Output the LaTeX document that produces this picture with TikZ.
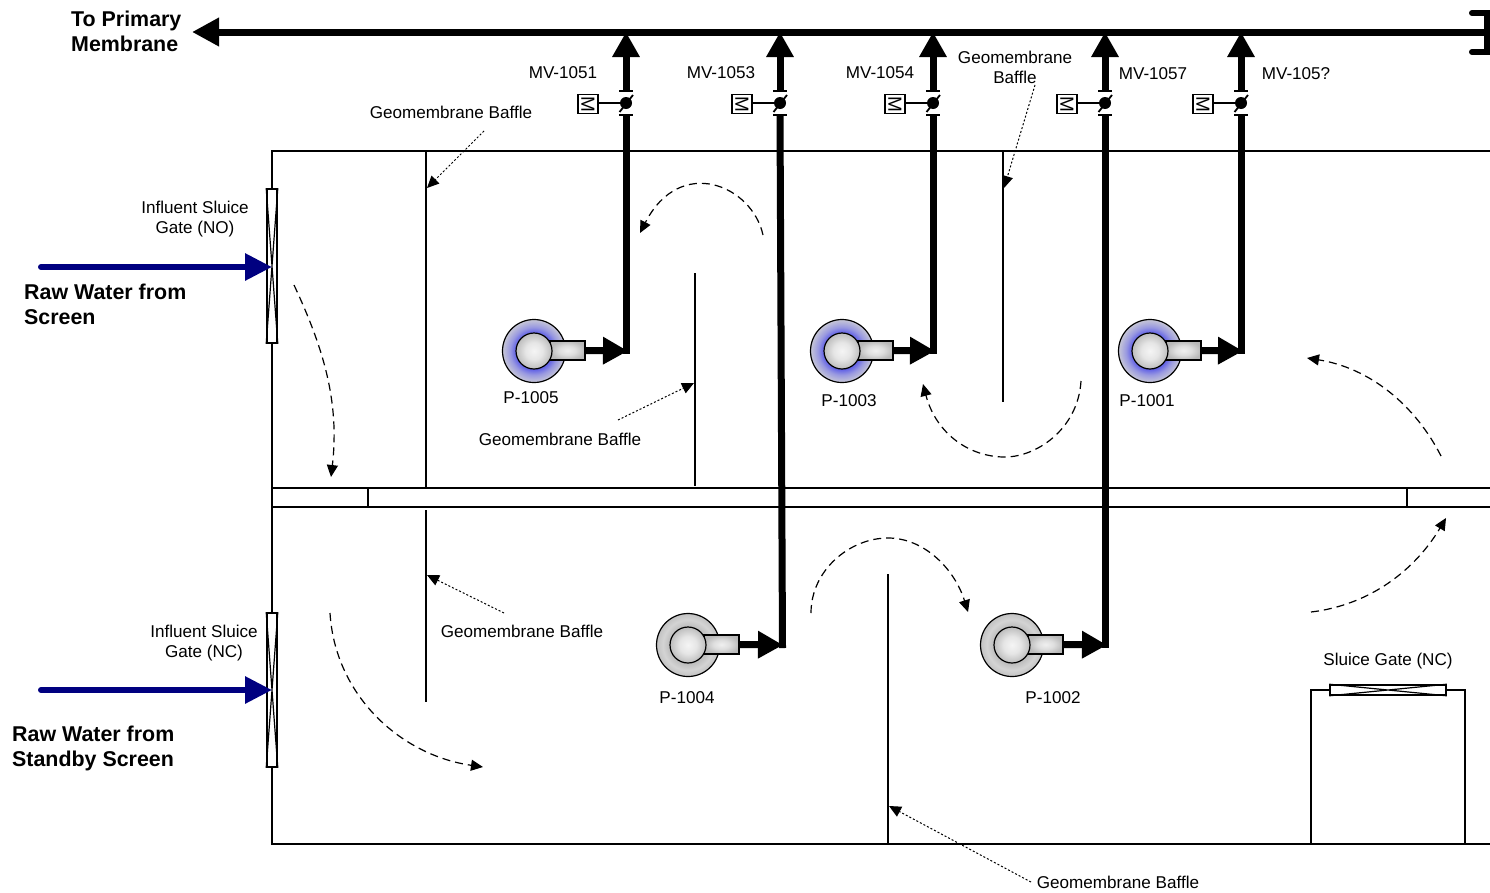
\documentclass[tikz,border=0pt]{standalone}
\usepackage{fontspec}
\setmainfont{Liberation Sans}
\usetikzlibrary{arrows.meta}
\definecolor{pumpblueA}{rgb}{0.38,0.38,0.90}
\definecolor{pumpblueB}{rgb}{0.60,0.60,0.88}
\definecolor{pumpblueC}{rgb}{0.78,0.78,0.84}
\pgfdeclareradialshading{pumpblue}{\pgfpoint{0bp}{0bp}}{color(0bp)=(pumpblueA); color(14.5bp)=(pumpblueA); color(19bp)=(pumpblueB); color(25bp)=(pumpblueC); color(50bp)=(pumpblueC)}
\pgfdeclareradialshading{pumpgray}{\pgfpoint{0bp}{0bp}}{color(0bp)=(black!24); color(14.5bp)=(black!26); color(20bp)=(black!17); color(25bp)=(black!24); color(50bp)=(black!24)}
\pgfdeclareradialshading{pumphub}{\pgfpoint{0bp}{0bp}}{color(0bp)=(black!4); color(12bp)=(black!10); color(25bp)=(black!26); color(50bp)=(black!26)}
\pgfdeclareradialshading{pumpnoz}{\pgfpoint{0bp}{0bp}}{color(0bp)=(black!6); color(12bp)=(black!13); color(25bp)=(black!27); color(50bp)=(black!32)}
\tikzset{
  x=1pt,y=-1pt,
  wall/.style={draw=black,line width=1.2pt},
  pipe/.style={draw=black,line width=7pt},
  pipetip/.style={-{Triangle[length=25pt,width=26pt]}},
  feedline/.style={draw={rgb,255:red,0;green,0;blue,128},line width=6pt,-{Triangle[length=27pt,width=26pt]}},
  flowarrow/.style={line width=1.2pt,dash pattern=on 8pt off 5pt,-{Triangle[length=12pt,width=11pt]}},
  leader/.style={line width=1pt,dash pattern=on 2pt off 2pt,-{Triangle[length=12pt,width=11pt]}},
  lab/.style={font=\fontsize{17.1}{20.5}\selectfont,inner sep=0pt,align=center},
  blab/.style={font=\fontsize{21.4}{25}\selectfont\bfseries,inner sep=0pt,align=left},
  pumpbody/.style={circle,draw=black,line width=1.2pt,minimum size=63pt,inner sep=0pt},
  pumphubs/.style={circle,draw=black,line width=1.2pt,minimum size=36pt,inner sep=0pt,shading=pumphub},
  nozzle/.style={rectangle,draw=black,line width=1.2pt,minimum width=35pt,minimum height=19pt,inner sep=0pt,shading=pumpnoz},
  vbar/.style={draw=black,line width=1.3pt},
  vdot/.style={circle,fill=black,minimum size=12pt,inner sep=0pt},
  mbox/.style={rectangle,draw=black,line width=1.3pt,fill=white,minimum width=20pt,minimum height=19pt,inner sep=0pt},
  gatev/.style={rectangle,draw=black,line width=1.6pt,fill=white,minimum width=10pt,minimum height=154pt,inner sep=0pt},
  gateh/.style={rectangle,draw=black,line width=1.6pt,fill=white,minimum width=116pt,minimum height=10pt,inner sep=0pt},
  gatex/.style={line width=1.2pt},
}
% #1 name, #2 x, #3 y, #4 body shading
\newcommand{\pumpunit}[4]{%
  \node[pumpbody,shading=#4] (#1) at (#2,#3) {};
  \node[nozzle] (#1n) at (#2+33.5,#3-0.5) {};
  \node[pumphubs] (#1h) at (#2,#3) {};
}
% #1 name, #2 x
\newcommand{\valveunit}[2]{%
  \coordinate (#1b) at (#2,115);
  \coordinate (#1t) at (#2,91);
  \coordinate (#1top) at (#2,32);
  \node[vdot] (#1d) at (#2,103) {};
  \node[mbox] (#1m) at (#2-38,104) {\rotatebox{-90}{\fontsize{19}{19}\selectfont M}};
  \draw[line width=1.1pt] (#1m.east |- #1d) -- (#1d);
  \draw[vbar] (#2-7,91) -- (#2+7,91);
  \draw[vbar] (#2-7,115) -- (#2+7,115);
  \draw[line width=1.8pt] (#2-6.5,112) -- (#2+7,95);
  \draw[pipe,pipetip] (#1t) -- (#1top);
}
\begin{document}
\begin{tikzpicture}
\useasboundingbox (0,0) rectangle (1490,892);
% tank
\coordinate (tl) at (272,151); \coordinate (tr) at (1490,151);
\coordinate (bl) at (272,844); \coordinate (br) at (1490,844);
\draw[wall] (tr) -- (tl) -- (bl) -- (br);
\draw[wall] (272,488) -- (1490,488);
\draw[wall] (272,507) -- (1490,507);
\draw[wall] (368,488) -- (368,507);
\draw[wall] (1407,488) -- (1407,507);
% baffles
\draw[wall] (426,151) -- (426,488);
\draw[wall] (426,510) -- (426,702);
\draw[wall] (695,273) -- (695,486);
\draw[wall] (1003,151) -- (1003,402);
\draw[wall] (888,574) -- (888,844);
\draw[wall] (1311,844) -- (1311,690) -- (1465,690) -- (1465,844);
% main header
\coordinate (hdrR) at (1487,32);
\coordinate (hdrL) at (192,32);
\draw[pipe,-{Triangle[length=27pt,width=27pt]}] (hdrR) -- (hdrL);
\draw[line width=6pt,line cap=round] (1472,13) -- (1490,13);
\draw[line width=6pt,line cap=round] (1472,52) -- (1490,52);
\draw[line width=6pt] (1487,13) -- (1487,52);
% pumps
\pumpunit{pA}{534}{351}{pumpblue}
\pumpunit{pB}{842}{351}{pumpblue}
\pumpunit{pC}{1150}{351}{pumpblue}
\pumpunit{pD}{688}{645}{pumpgray}
\pumpunit{pE}{1012}{645}{pumpgray}
% valves and pipes
\valveunit{vA}{626}
\valveunit{vB}{780}
\valveunit{vC}{933}
\valveunit{vD}{1105}
\valveunit{vE}{1241}
\coordinate (eA) at (628,351); \coordinate (eB) at (935,351); \coordinate (eC) at (1243,351);
\coordinate (eD) at (783,645); \coordinate (eE) at (1107,645);
\draw[pipe] (vAb) -- (626,354);
\draw[pipe] (vCb) -- (933,354);
\draw[pipe] (vEb) -- (1241,354);
\draw[pipe] (vBb) -- (782.5,648);
\draw[pipe] (vDb) -- (1105,648);
\draw[pipe,pipetip] (pAn.east) -- (eA);
\draw[pipe,pipetip] (pBn.east) -- (eB);
\draw[pipe,pipetip] (pCn.east) -- (eC);
\draw[pipe,pipetip] (pDn.east) -- (eD);
\draw[pipe,pipetip] (pEn.east) -- (eE);
% influent gates
\coordinate (g1) at (272,267); \coordinate (g2) at (272,690);
\node[gatev] (gateA) at (272,266) {};
\node[gatev] (gateB) at (272,690) {};
\draw[gatex] (gateA.north west) -- (gateA.south east) (gateA.north east) -- (gateA.south west);
\draw[gatex] (gateB.north west) -- (gateB.south east) (gateB.north east) -- (gateB.south west);
\coordinate (f1) at (41,267); \coordinate (f2) at (41,690);
\draw[feedline,line cap=round] (f1) -- (g1);
\draw[feedline,line cap=round] (f2) -- (g2);
% sluice gate NC
\node[gateh] (gateC) at (1388,690) {};
\draw[gatex] (gateC.north west) -- (gateC.south east) (gateC.north east) -- (gateC.south west);
% flow arrows
\draw[flowarrow] (294,285) .. controls (322,345) and (340,400) .. (331,477);
\draw[flowarrow] (763,235) .. controls (752,185) and (680,155) .. (640,233);
\draw[flowarrow] (1081,381) .. controls (1078,430) and (1035,458) .. (1003,457) .. controls (965,456) and (935,430) .. (923,384);
\draw[flowarrow] (1441,456) .. controls (1415,405) and (1370,368) .. (1307,358);
\draw[flowarrow] (1311,612) .. controls (1370,605) and (1415,570) .. (1446,518);
\draw[flowarrow] (811,613) .. controls (811,570) and (850,538) .. (888,538) .. controls (925,538) and (955,570) .. (968,612);
\draw[flowarrow] (330,613) .. controls (335,695) and (400,755) .. (483,767);
% leaders
\draw[leader] (484,131) -- (427,188);
\draw[leader] (618,420) -- (694,383);
\draw[leader] (1035,85) -- (1004,188);
\draw[leader] (504,613) -- (427,575);
\draw[leader] (1031,882) -- (889,806);
% labels
\node[blab,anchor=west] (t0) at (71,31) {To Primary\\Membrane};
\node[blab,anchor=west] (t1) at (24,304) {Raw Water from\\Screen};
\node[blab,anchor=west] (t2) at (12,748) {Raw Water from\\Standby Screen};
\node[lab] (l1) at (195,219) {Influent Sluice\\Gate (NO)};
\node[lab] (l2) at (204,643) {Influent Sluice\\Gate (NC)};
\node[lab] (m1) at (563,73) {MV-1051};
\node[lab] (m2) at (721,73) {MV-1053};
\node[lab] (m3) at (880,73) {MV-1054};
\node[lab] (m4) at (1153,74) {MV-1057};
\node[lab] (m5) at (1296,74) {MV-105?};
\node[lab] (b1) at (451,112) {Geomembrane Baffle};
\node[lab] (b2) at (1015,67.5) {Geomembrane\\Baffle};
\node[lab] (b3) at (560,439) {Geomembrane Baffle};
\node[lab] (b4) at (522,631) {Geomembrane Baffle};
\node[lab] (b5) at (1118,882) {Geomembrane Baffle};
\node[lab] (n1) at (531,398) {P-1005};
\node[lab] (n2) at (849,401) {P-1003};
\node[lab] (n3) at (1147,401) {P-1001};
\node[lab] (n4) at (687,698) {P-1004};
\node[lab] (n5) at (1053,698) {P-1002};
\node[lab] (n6) at (1388,661) {Sluice Gate (NC)};
\end{tikzpicture}
\end{document}
